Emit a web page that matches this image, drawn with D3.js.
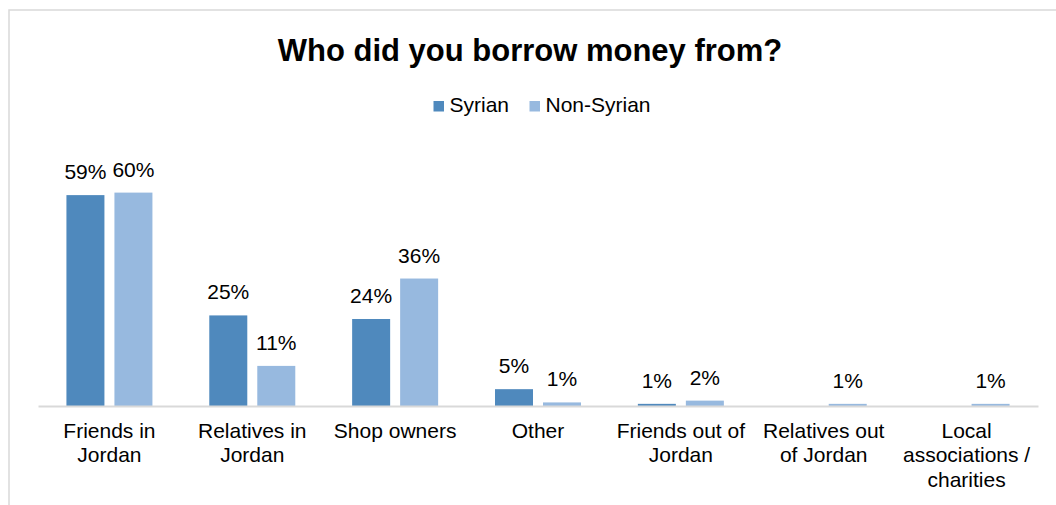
<!DOCTYPE html>
<html>
<head>
<meta charset="utf-8">
<script src="https://cdn.jsdelivr.net/npm/d3@7"></script>
<style>
  html, body { margin: 0; padding: 0; background: #fff; }
  svg { display: block; }
  text { font-family: "Liberation Sans", Arial, sans-serif; fill: #000; }
</style>
</head>
<body>
<svg id="chart" width="1056" height="505"></svg>
<script>
// ---- data ----
const title = "Who did you borrow money from?";
const categories = [
  "Friends in\nJordan",
  "Relatives in\nJordan",
  "Shop owners",
  "Other",
  "Friends out of\nJordan",
  "Relatives out\nof Jordan",
  "Local\nassociations /\ncharities"
];
const seriesNames = ["Syrian", "Non-Syrian"];
const syrian    = [58.9, 25.3, 24.3, 4.7, 0.6, 0, 0];
const nonSyrian = [59.6, 11.2, 35.6, 1.0, 1.5, 0.6, 0.6];
const seriesColors = ["#4F89BD", "#97B9DF"];

// ---- layout ----
const svg = d3.select("#chart");
const W = 1056, H = 505;
const plot = { left: 38, right: 1038, top: 150, bottom: 406 };

// chart border (top and left visible)
svg.append("rect")
  .attr("x", 9).attr("y", 10)
  .attr("width", 1200).attr("height", 700)
  .attr("fill", "none").attr("stroke", "#d9d9d9").attr("stroke-width", 1.5);

svg.append("text")
  .attr("x", 530).attr("y", 61)
  .attr("text-anchor", "middle")
  .style("font-size", "31px").style("font-weight", "bold")
  .text(title);

// legend
const legendItems = [
  { name: seriesNames[0], color: seriesColors[0], x: 433.5 },
  { name: seriesNames[1], color: seriesColors[1], x: 529.5 }
];
const lg = svg.append("g");
legendItems.forEach(d => {
  lg.append("rect").attr("x", d.x).attr("y", 101).attr("width", 10.5).attr("height", 10.5).attr("fill", d.color);
  lg.append("text").attr("x", d.x + 16).attr("y", 112.3).style("font-size", "21px").text(d.name);
});

const x0 = d3.scaleBand().domain(categories).range([plot.left, plot.right]).padding(0);
const groupW = 86;
const x1 = d3.scaleBand().domain(seriesNames)
  .range([(x0.bandwidth() - groupW) / 2, (x0.bandwidth() + groupW) / 2])
  .paddingInner(10 / 48);
const y = d3.scaleLinear().domain([0, 71.5]).range([plot.bottom, plot.top]);

const rows = categories.map((c, i) => ({
  cat: c,
  vals: [{ s: seriesNames[0], v: syrian[i] }, { s: seriesNames[1], v: nonSyrian[i] }]
}));

const groups = svg.append("g").selectAll("g").data(rows).join("g")
  .attr("transform", d => `translate(${x0(d.cat)},0)`);

groups.selectAll("rect").data(d => d.vals).join("rect")
  .attr("x", d => x1(d.s))
  .attr("width", x1.bandwidth())
  .attr("y", d => y(d.v))
  .attr("height", d => y(0) - y(d.v))
  .attr("fill", (d, i) => seriesColors[i]);

groups.selectAll("text.lbl").data(d => d.vals.filter(v => v.v > 0)).join("text")
  .attr("class", "lbl")
  .attr("x", d => x1(d.s) + x1.bandwidth() / 2)
  .attr("y", d => y(d.v) - 16)
  .attr("text-anchor", "middle")
  .style("font-size", "21px")
  .text(d => d3.format(".0f")(d.v) + "%");

// x axis
const xAxis = d3.axisBottom(x0).tickSize(0).tickSizeOuter(0).tickFormat("");
const axisG = svg.append("g").attr("transform", `translate(0,${plot.bottom})`).call(xAxis);
axisG.select(".domain").attr("stroke", "#d9d9d9").attr("stroke-width", 2);

axisG.selectAll(".tick").each(function(d) {
  const t = d3.select(this).append("text")
    .attr("text-anchor", "middle")
    .attr("y", 31.7)
    .style("font-size", "21px");
  d.split("\n").forEach((line, i) => {
    t.append("tspan").attr("x", 0).attr("dy", i === 0 ? 0 : 24.5).text(line);
  });
});
</script>
</body>
</html>
